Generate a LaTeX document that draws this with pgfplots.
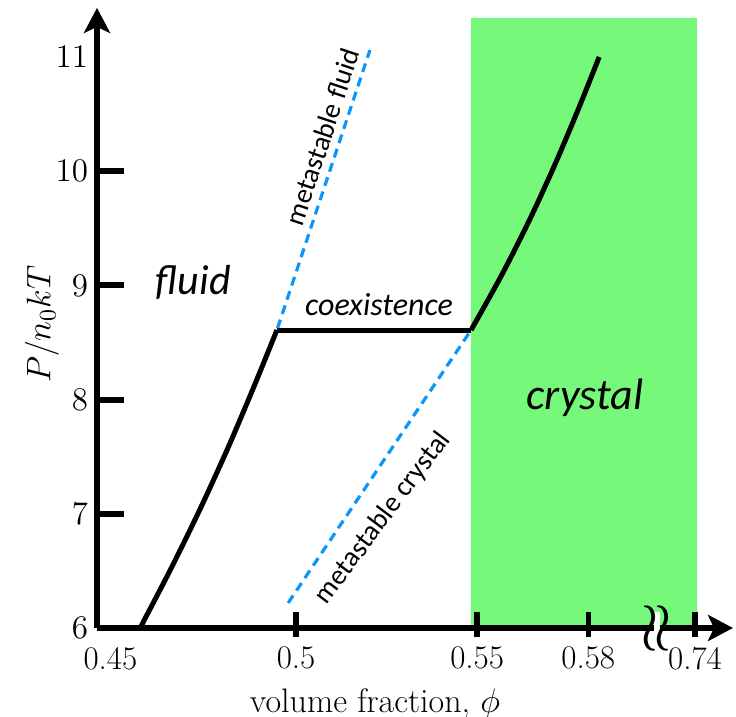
\RequirePackage{fix-cm}
\documentclass[border=0pt]{standalone}
\usepackage{fontspec}
\usepackage{pgfplots}
\pgfplotsset{compat=1.18}
\usetikzlibrary{arrows.meta}
\newfontfamily\annot{Carlito}
\definecolor{xtalgreen}{RGB}{118,249,122}
\definecolor{metablue}{RGB}{10,150,250}

\begin{document}
\begin{tikzpicture}
\begin{axis}[
  x=1810pt, y=57.1pt,
  xmin=0.445, xmax=0.6207, ymin=6, ymax=11.43,
  axis lines=left,
  axis line style={line width=3pt, -{Stealth[length=12.5pt,width=13pt,inset=3pt]}},
  axis on top,
  clip=false,
  xtick={0.4487,0.5,0.55,0.5807,0.6102},
  xticklabels={0.45,0.5,0.55,0.58,0.74},
  ytick={6,7,8,9,10,11},
  major tick length=0pt,
  extra x ticks={0.5,0.55,0.5807,0.6102},
  extra x tick labels={},
  extra x tick style={major tick length=12.5pt, tick align=center,
    tick style={line width=2.6pt, black, yshift=1.75pt}},
  extra y ticks={7,8,9,10},
  extra y tick labels={},
  extra y tick style={major tick length=13.5pt, tick align=inside,
    tick style={line width=3pt, black}},
  tick label style={font=\fontsize{16.5}{19}\selectfont},
  xticklabel style={yshift=-6pt},
  yticklabel style={xshift=-1pt},
  xlabel={volume fraction, $\phi$},
  ylabel={$P/n_0kT$},
  label style={font=\fontsize{17}{20}\selectfont},
  xlabel style={at={(axis cs:0.5218,6)}, anchor=north, yshift=-27pt},
  ylabel style={at={(axis cs:0.4298,8.66)}, anchor=center},
]
% crystal region
\addplot[fill=xtalgreen, draw=none] coordinates {
  (0.5483,6) (0.6108,6) (0.6108,11.342) (0.5483,11.342)} \closedcycle;

% metastable branches (dashed)
\addplot[metablue, line width=1.6pt, dash pattern=on 4.5pt off 3pt] coordinates {
  (0.45691,6.000) (0.46552,6.525) (0.47362,7.051) (0.48116,7.576)
  (0.48820,8.102) (0.49470,8.609) (0.5204,11.061)};
\addplot[metablue, line width=1.6pt, dash pattern=on 4.5pt off 3pt] coordinates {
  (0.4978,6.219) (0.54834,8.609) (0.55680,9.091) (0.56448,9.573)
  (0.57144,10.054) (0.57787,10.536) (0.58373,11.000)};

% equation of state
\addplot[black, line width=2.5pt, smooth] coordinates {
  (0.45691,6.000) (0.46552,6.525) (0.47362,7.051) (0.48116,7.576)
  (0.48820,8.102) (0.49470,8.609)};
\addplot[black, line width=2.5pt] coordinates {
  (0.49470,8.609) (0.54834,8.609)};
\addplot[black, line width=2.5pt, smooth] coordinates {
  (0.54834,8.609) (0.55680,9.091) (0.56448,9.573) (0.57144,10.054)
  (0.57787,10.536) (0.58373,11.000)};

\node[font=\annot\itshape\fontsize{21}{24}\selectfont] at (axis cs:0.4716,9.03) {fluid};
\node[font=\annot\itshape\fontsize{22}{26}\selectfont] at (axis cs:0.5798,8.014) {crystal};
\node[font=\annot\itshape\fontsize{16}{19}\selectfont] at (axis cs:0.5229,8.828) {coexistence};
\node[font=\annot\fontsize{14}{17}\selectfont, rotate=71.7] at (axis cs:0.5072,10.30) {metastable fluid};
\node[font=\annot\fontsize{14}{17}\selectfont, rotate=53] at (axis cs:0.5240,6.963) {metastable crystal};
\end{axis}
% axis break
\fill[white] (278.4pt,-1.5pt) rectangle (281.4pt,8pt);
\node[font=\fontsize{34}{34}\selectfont, inner sep=0pt] at (276.5pt,-0.5pt) {$\wr$};
\node[font=\fontsize{34}{34}\selectfont, inner sep=0pt] at (283pt,-0.5pt) {$\wr$};
\pgfresetboundingbox
\useasboundingbox (-48.5pt,-44.5pt) rectangle (319.5pt,314pt);
\end{tikzpicture}
\end{document}
